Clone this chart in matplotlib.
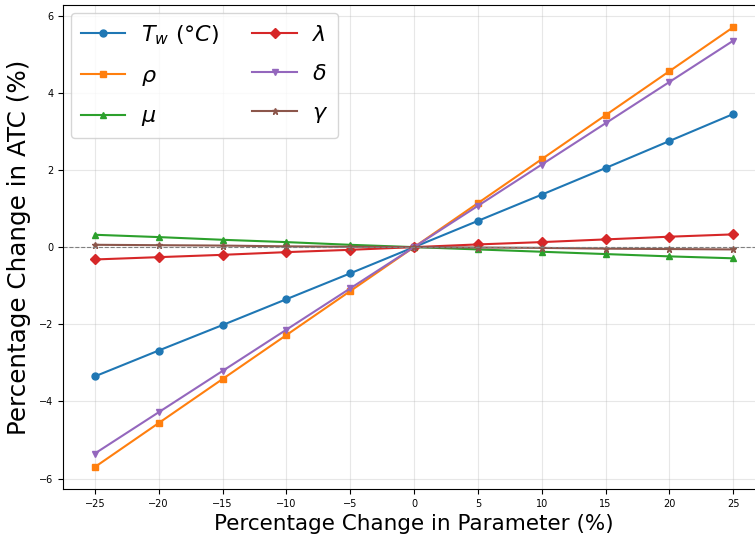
import numpy as np
import matplotlib
matplotlib.use('Agg')
import matplotlib.pyplot as plt

# percentage change in each parameter
change = [-25, -20, -15, -10, -5, 0, 5, 10, 15, 20, 25]

# percentage change in ATC
Tw = [-3.35, -2.68, -2.02, -1.35, -0.68, 0.0, 0.68, 1.36, 2.05, 2.75, 3.45]
rho = [-5.70, -4.56, -3.42, -2.28, -1.14, 0.0, 1.14, 2.28, 3.42, 4.56, 5.70]
mu = [0.32, 0.26, 0.19, 0.13, 0.06, 0.0, -0.06, -0.12, -0.18, -0.24, -0.29]
lam = [-0.32, -0.26, -0.20, -0.13, -0.07, 0.0, 0.07, 0.13, 0.20, 0.27, 0.33]
delta = [-5.35, -4.28, -3.21, -2.14, -1.07, 0.0, 1.07, 2.14, 3.21, 4.28, 5.35]
gamma = [0.06, 0.05, 0.04, 0.02, 0.01, 0.0, -0.01, -0.02, -0.04, -0.05, -0.06]

labels = [r'$T_w\ (°C)$', r'$\rho$', r'$\mu$', r'$\lambda$', r'$\delta$', r'$\gamma$']
series = [Tw, rho, mu, lam, delta, gamma]
markers = ['o', 's', '^', 'D', 'v', '*']

fig = plt.figure(figsize=(7.55, 5.46), dpi=100)
ax = fig.add_axes([0.0834, 0.1044, 0.930, 0.886])

for s, lab, m in zip(series, labels, markers):
    ax.plot(change, s, marker=m, markersize=5, linewidth=1.5, label=lab)

ax.axhline(0, color='gray', linestyle='--', linewidth=0.8)
ax.grid(True, alpha=0.3)
ax.set_xticks(change)
ax.tick_params(labelsize=7)
ax.set_xlabel('Percentage Change in Parameter (%)', fontsize=15.5)
ax.set_ylabel('Percentage Change in ATC (%)', fontsize=17.7, labelpad=6)
ax.legend(ncol=2, loc='upper left', fontsize=16, labelspacing=0.85,
          borderpad=0.45, columnspacing=1.5, handletextpad=0.7,
          borderaxespad=0.35)

fig.savefig('out.png', dpi=100)
